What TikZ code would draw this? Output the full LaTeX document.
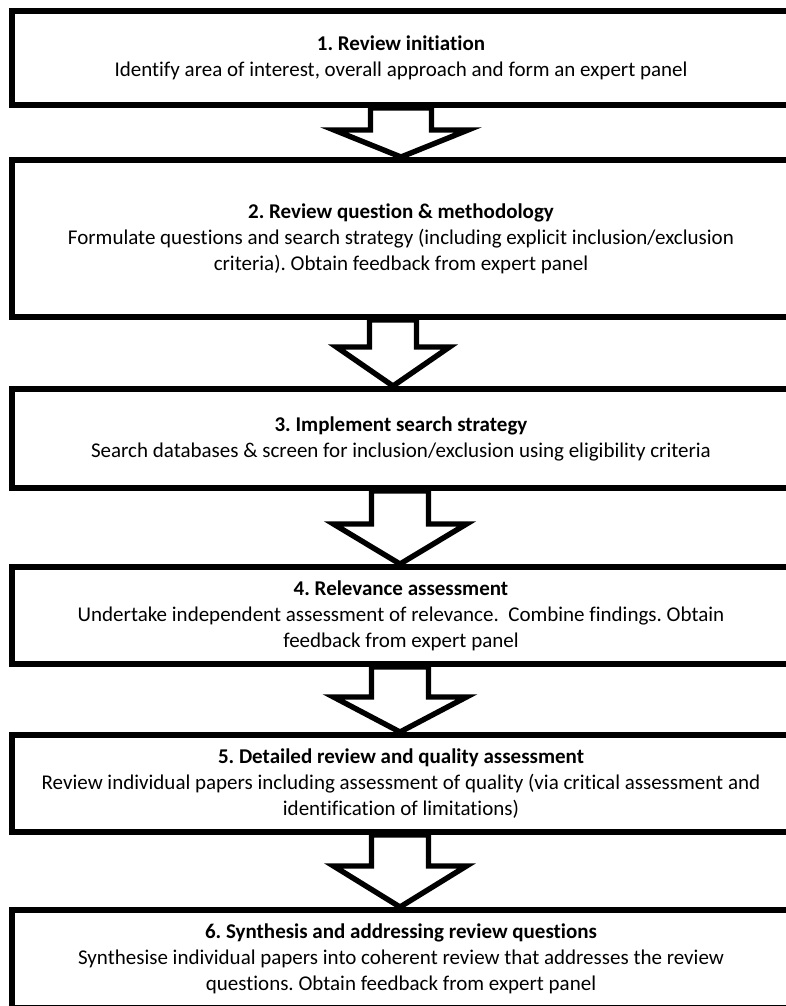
\documentclass[tikz,border=0pt]{standalone}
\usepackage{fontspec}
\setmainfont{Carlito}[Ligatures=NoCommon]
\frenchspacing
\usetikzlibrary{calc}
\newcommand\myblockarrow[6]{% #1 upper node, #2 lower node, #3 shaft half width, #4 head half width, #5 head height, #6 x offset
  \draw[blockarrow] ($(#1.south)+(#6-#3,0)$) -- ($(#2.north)+(#6-#3,-#5)$) -- ($(#2.north)+(#6-#4,-#5)$)
    -- ($(#2.north)+(#6,0)$) -- ($(#2.north)+(#6+#4,-#5)$) -- ($(#2.north)+(#6+#3,-#5)$)
    -- ($(#1.south)+(#6+#3,0)$) -- cycle;}
\begin{document}
\begin{tikzpicture}[x=0.5pt,y=-0.5pt,
  stepbox/.style={draw=black,line width=3pt,fill=white,inner sep=0pt,align=center,
    minimum width=389pt,font=\fontsize{10.5}{13}\selectfont},
  blockarrow/.style={draw=black,line width=2.7pt,fill=white,line join=miter}]
\useasboundingbox (0,0) rectangle (786,1006);
\begin{scope}
\clip (0,0) rectangle (786,1006);
\node[stepbox,minimum height=47pt] (b1) at (401,58)
  {\textbf{1. Review initiation}\\Identify area of interest, overall approach and form an expert panel};
\node[stepbox,minimum height=78.5pt] (b2) at (401,238.5)
  {\textbf{2. Review question \& methodology}\\Formulate questions and search strategy (including explicit inclusion/exclusion\\criteria). Obtain feedback from expert panel};
\node[stepbox,minimum height=49.5pt] (b3) at (401,438.5)
  {\textbf{3. Implement search strategy}\\Search databases \& screen for inclusion/exclusion using eligibility criteria};
\node[stepbox,minimum height=48.5pt] (b4) at (401,615.5)
  {\textbf{4. Relevance assessment}\\Undertake independent assessment of relevance.\ \ Combine findings. Obtain\\feedback from expert panel};
\node[stepbox,minimum height=48.5pt] (b5) at (401,783.5)
  {\textbf{5. Detailed review and quality assessment}\\Review individual papers including assessment of quality (via critical assessment and\\identification of limitations)};
\node[stepbox,minimum height=49pt] (b6) at (401,959)
  {\textbf{6. Synthesis and addressing review questions}\\Synthesise individual papers into coherent review that addresses the review\\questions. Obtain feedback from expert panel};
\myblockarrow{b1}{b2}{30.5}{67}{27}{0}
\myblockarrow{b2}{b3}{23.5}{56.5}{39}{-8}
\myblockarrow{b3}{b4}{28.5}{66.5}{40}{-1}
\myblockarrow{b4}{b5}{28.5}{66.5}{35}{-1}
\myblockarrow{b5}{b6}{28.5}{66.5}{41}{-1}
\end{scope}
\end{tikzpicture}
\end{document}
